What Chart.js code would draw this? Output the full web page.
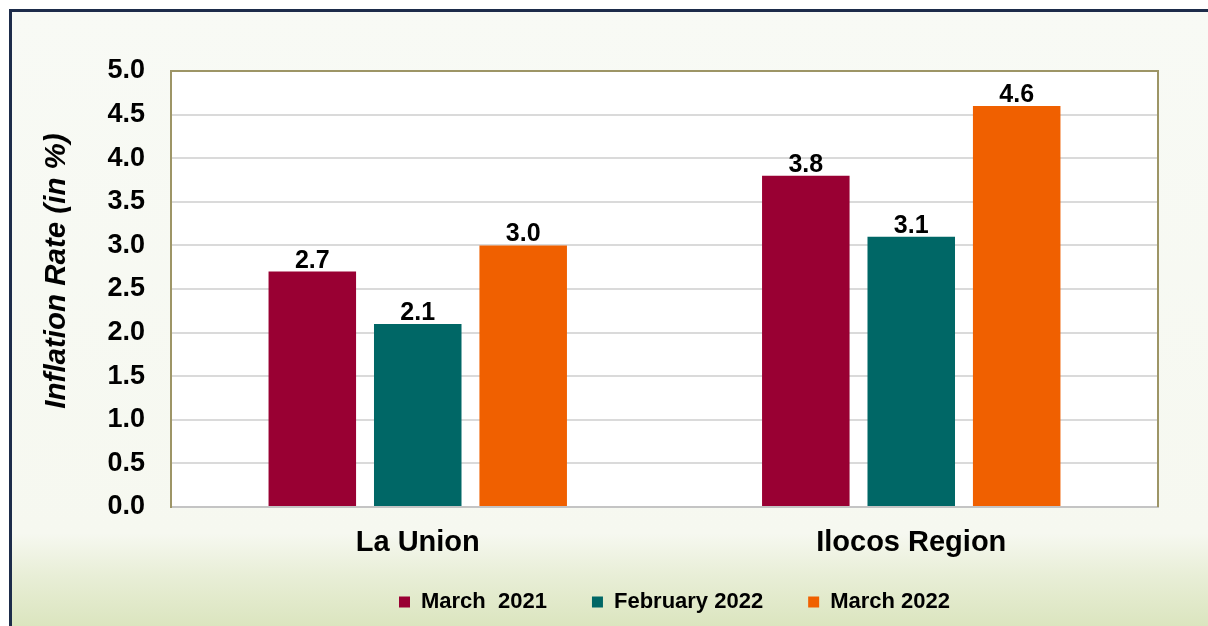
<!DOCTYPE html>
<html>
<head>
<meta charset="utf-8">
<title>Inflation Rate</title>
<script src="https://cdn.jsdelivr.net/npm/chart.js@4/dist/chart.umd.min.js"></script>
<style>
  html, body { margin: 0; padding: 0; background: #fff; }
</style>
</head>
<body>
<canvas id="plot-inflation" width="1208" height="626"></canvas>
<script>
const categories = ["La Union", "Ilocos Region"];
const seriesNames = ["March  2021", "February 2022", "March 2022"];
const march2021 = [2.7, 3.8];
const february2022 = [2.1, 3.1];
const march2022 = [3.0, 4.6];
const yTitle = "Inflation Rate (in %)";

const FONT = "'Liberation Sans', Arial, sans-serif";
Chart.defaults.font.family = FONT;
Chart.defaults.color = "#000";

// background, frame and plot-area box
const framePlugin = {
  id: "frame",
  beforeDraw(chart) {
    const ctx = chart.ctx;
    const w = chart.width, h = chart.height;
    const area = chart.chartArea;
    ctx.save();
    ctx.fillStyle = "#ffffff";
    ctx.fillRect(0, 0, w, h);
    const grad = ctx.createLinearGradient(0, 9, 0, h);
    grad.addColorStop(0, "#f8faf5");
    grad.addColorStop(0.85, "#f6f8f0");
    grad.addColorStop(0.92, "#e8eed6");
    grad.addColorStop(1, "#dbe5bf");
    ctx.fillStyle = grad;
    ctx.fillRect(9, 9, w - 9, h - 9);
    ctx.fillStyle = "#1d2c4a";
    ctx.fillRect(9, 9, w - 9, 3);
    ctx.fillRect(9, 9, 3, h - 9);
    ctx.fillStyle = "#ffffff";
    ctx.fillRect(area.left, area.top, area.right - area.left, area.bottom - area.top);
    ctx.restore();
  },
  afterDatasetsDraw(chart) {
    const ctx = chart.ctx;
    const area = chart.chartArea;
    ctx.save();
    // top and right edges of the plot box
    ctx.strokeStyle = "#9d9566";
    ctx.lineWidth = 2;
    ctx.beginPath();
    ctx.moveTo(area.left, area.top);
    ctx.lineTo(area.right, area.top);
    ctx.lineTo(area.right, area.bottom);
    ctx.stroke();
    // value labels above bars
    ctx.fillStyle = "#000";
    ctx.font = "bold 25px " + FONT;
    ctx.textAlign = "center";
    ctx.textBaseline = "alphabetic";
    chart.data.datasets.forEach((ds, i) => {
      chart.getDatasetMeta(i).data.forEach((bar, j) => {
        ctx.fillText(ds.data[j].toFixed(1), bar.x, bar.y - 4);
      });
    });
    ctx.restore();
  },
  afterDraw(chart) {
    const ctx = chart.ctx;
    ctx.save();
    ctx.translate(57, 271);
    ctx.rotate(-Math.PI / 2);
    ctx.font = "italic bold 29.5px " + FONT;
    ctx.fillStyle = "#000";
    ctx.textAlign = "center";
    ctx.textBaseline = "middle";
    ctx.fillText(yTitle, 0, 0);
    ctx.restore();
  },
};

const canvas = document.getElementById("plot-inflation");
const myChart = new Chart(canvas, {
  type: "bar",
  data: {
    labels: categories,
    datasets: [
      {
        label: seriesNames[0],
        data: march2021,
        backgroundColor: "#990033",
      },
      {
        label: seriesNames[1],
        data: february2022,
        backgroundColor: "#006766",
      },
      {
        label: seriesNames[2],
        data: march2022,
        backgroundColor: "#f06000",
      },
    ],
  },
  options: {
    responsive: false,
    animation: false,
    categoryPercentage: 0.641,
    barPercentage: 0.83,
    // negative right padding pushes the legend centre to the right, like the original
    layout: {
      padding: { left: 12, right: -129, top: 71, bottom: 3 },
    },
    plugins: {
      legend: {
        position: "bottom",
        labels: {
          boxWidth: 11,
          boxHeight: 11,
          padding: 45,
          color: "#000",
          font: { size: 22, weight: "bold" },
        },
      },
      tooltip: { enabled: false },
    },
    scales: {
      x: {
        grid: { display: false },
        border: { color: "#c4c4c4", width: 2 },
        ticks: {
          color: "#000",
          mirror: true, // keeps the labels from being clipped by the short axis box
          padding: -53,
          font: { size: 29, weight: "bold" },
        },
        afterFit: (scale) => {
          scale.height = 39;
        },
      },
      y: {
        min: 0,
        max: 5,
        ticks: {
          stepSize: 0.5,
          padding: 26,
          color: "#000",
          font: { size: 27, weight: "bold" },
          callback: (v) => Number(v).toFixed(1),
        },
        grid: { color: "#dadada", lineWidth: 2, drawTicks: false },
        border: { color: "#9d9566", width: 2 },
        afterFit: (scale) => {
          scale.width = 159;
        },
      },
      yRight: {
        type: "linear",
        position: "right",
        grid: { display: false },
        border: { display: false },
        ticks: { display: false },
        afterFit: (scale) => {
          scale.width = 179;
        },
      },
    },
  },
  plugins: [framePlugin],
});
</script>
</body>
</html>
